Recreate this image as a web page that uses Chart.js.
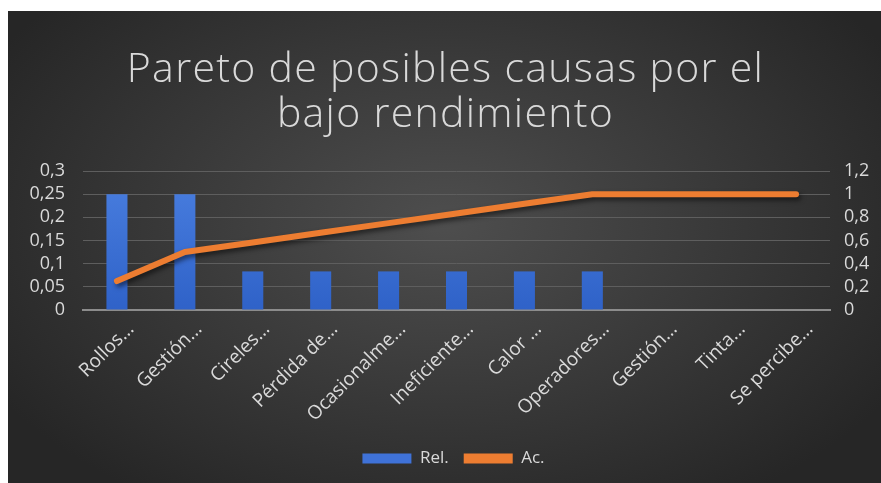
<!DOCTYPE html>
<html>
<head>
<meta charset="utf-8">
<script src="https://cdn.jsdelivr.net/npm/chart.js@4/dist/chart.umd.min.js"></script>
<style>
  html, body { margin: 0; padding: 0; background: #ffffff; }
  #wrap {
    position: absolute; left: 8px; top: 11px; width: 873px; height: 472px;
    background: radial-gradient(ellipse 60% 70% at 50% 45%, #4e4e4e 0%, #3c3c3c 45%, #262626 100%);
  }
  canvas { display: block; }
</style>
</head>
<body>
<div id="wrap"><canvas id="chart" width="873" height="472"></canvas></div>
<script>
// Causes, in Pareto order
const categories = [
  'Rollos...', 'Gestión...', 'Cireles...', 'Pérdida de...', 'Ocasionalme...',
  'Ineficiente...', 'Calor ...', 'Operadores...', 'Gestión...', 'Tinta...', 'Se percibe...'
];
// Relative frequency of each cause
const relValues = [0.25, 0.25, 0.0833, 0.0833, 0.0833, 0.0833, 0.0833, 0.0833, 0, 0, 0];
// Accumulated frequency
const accValues = [0.25, 0.5, 0.5833, 0.6667, 0.75, 0.8333, 0.9167, 1, 1, 1, 1];

const titleLines = ['Pareto de posibles causas por el', 'bajo rendimiento'];
const seriesNames = ['Rel.', 'Ac.'];

const textColor = '#d9d9d9';
const fmt = v => String(Math.round(v * 100) / 100).replace('.', ',');

const ctx = document.getElementById('chart').getContext('2d');

function barFill(context) {
  const area = context.chart.chartArea;
  if (!area) return '#4472c4';
  const g = context.chart.ctx.createLinearGradient(0, area.top, 0, area.bottom);
  g.addColorStop(0, '#4a7fe0');
  g.addColorStop(1, '#2f62c8');
  return g;
}

// Soft drop shadow under the accumulated line
const lineShadow = {
  id: 'lineShadow',
  beforeDatasetDraw(chart, args) {
    if (args.index === 0) {
      const c = chart.ctx;
      c.save();
      c.shadowColor = 'rgba(0,0,0,0.55)';
      c.shadowBlur = 5;
      c.shadowOffsetX = 2;
      c.shadowOffsetY = 3;
    }
  },
  afterDatasetDraw(chart, args) {
    if (args.index === 0) chart.ctx.restore();
  }
};

// Two-line, lightly tracked chart title
const bigTitle = {
  id: 'bigTitle',
  afterDraw(chart) {
    const c = chart.ctx;
    c.save();
    c.fillStyle = textColor;
    c.font = '300 41px "Open Sans"';
    c.textAlign = 'center';
    c.textBaseline = 'alphabetic';
    c.letterSpacing = '1.3px';
    const cx = chart.width / 2 + 1;
    c.fillText(titleLines[0], cx, 71);
    c.fillText(titleLines[1], cx, 116);
    c.restore();
  }
};

// Nudge the legend a little to the right of the canvas centre
const legendNudge = {
  id: 'legendNudge',
  beforeDraw(chart) {
    const lg = chart.legend;
    if (lg) { lg.left += 9; lg.right += 9; }
  }
};

new Chart(ctx, {
  data: {
    labels: categories,
    datasets: [
      {
        type: 'line',
        label: seriesNames[1],
        data: accValues,
        yAxisID: 'y2',
        borderColor: '#ed7d31',
        backgroundColor: '#ed7d31',
        borderWidth: 6,
        borderCapStyle: 'round',
        borderJoinStyle: 'round',
        pointRadius: 0,
        tension: 0,
        order: 0
      },
      {
        type: 'bar',
        label: seriesNames[0],
        data: relValues,
        yAxisID: 'y',
        backgroundColor: barFill,
        borderWidth: 0,
        categoryPercentage: 1,
        barPercentage: 0.31,
        order: 1
      }
    ]
  },
  options: {
    responsive: false,
    animation: false,
    layout: { padding: { top: 160, bottom: 6, left: 0, right: 0 } },
    plugins: {
      title: { display: false },
      legend: {
        position: 'bottom',
        labels: {
          color: textColor,
          font: { family: 'Open Sans', size: 17 },
          boxWidth: 49,
          boxHeight: 10,
          padding: 15,
          generateLabels() {
            return [
              { text: seriesNames[0], fillStyle: '#3f72d8', strokeStyle: '#3f72d8', lineWidth: 0, datasetIndex: 1, fontColor: textColor },
              { text: seriesNames[1], fillStyle: '#ed7d31', strokeStyle: '#ed7d31', lineWidth: 0, datasetIndex: 0, fontColor: textColor }
            ];
          }
        }
      },
      tooltip: { enabled: false }
    },
    scales: {
      x: {
        afterFit(scale) { scale.height = 125; },
        grid: { display: false },
        border: { color: '#8c8c8c', width: 2 },
        ticks: {
          color: textColor,
          font: { family: 'Open Sans', size: 19 },
          minRotation: 45,
          maxRotation: 45,
          autoSkip: false,
          padding: 0,
          labelOffset: 14
        }
      },
      y: {
        position: 'left',
        min: 0,
        max: 0.3,
        afterFit(scale) { scale.width = 75; },
        grid: { color: '#5e5e5e', lineWidth: 1, drawTicks: false },
        border: { display: false },
        ticks: {
          stepSize: 0.05,
          autoSkip: false,
          color: textColor,
          font: { family: 'Open Sans', size: 18 },
          padding: 18,
          callback: v => fmt(v)
        }
      },
      y2: {
        position: 'right',
        min: 0,
        max: 1.2,
        afterFit(scale) { scale.width = 51; },
        grid: { display: false, drawTicks: false },
        border: { display: false },
        ticks: {
          stepSize: 0.2,
          autoSkip: false,
          color: textColor,
          font: { family: 'Open Sans', size: 18 },
          padding: 14,
          callback: v => fmt(v)
        }
      }
    }
  },
  plugins: [lineShadow, bigTitle, legendNudge]
});
</script>
</body>
</html>
